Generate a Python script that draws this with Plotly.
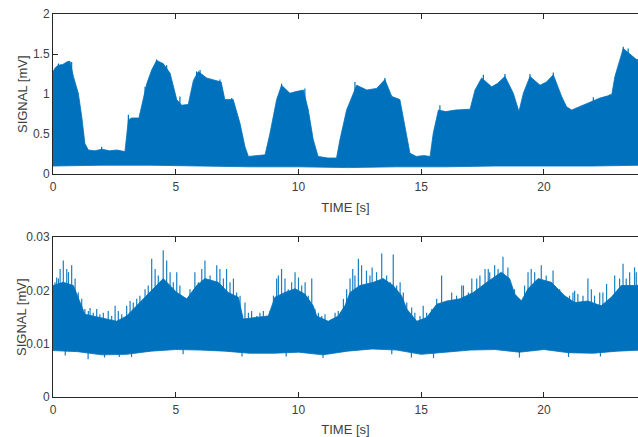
import plotly.graph_objects as go

# ---------------- data ----------------
# Top panel: upper envelope of the dense signal
top_t = [0, 0.1, 0.22, 0.4, 0.56, 0.69, 0.83, 1.03, 1.17, 1.30, 1.44, 1.7, 2.0, 2.3, 2.6, 2.93,
         3.07, 3.2, 3.5, 3.68, 3.82, 4.02, 4.22, 4.35, 4.49, 4.77, 5.04, 5.24, 5.51, 5.72, 5.92,
         6.26, 6.67, 6.85, 7.0, 7.34, 7.62, 7.82, 7.96, 8.3, 8.64, 8.84, 9.11, 9.31, 9.65, 9.9,
         10.2, 10.4, 10.6, 10.8, 11.2, 11.55, 11.69, 11.96, 12.37, 12.78, 13.18, 13.52, 13.8,
         14.13, 14.34, 14.54, 14.8, 15.1, 15.36, 15.49, 15.7, 16.0, 16.4, 16.99, 17.19, 17.46,
         17.87, 18.1, 18.41, 18.75, 18.98, 19.16, 19.43, 19.84, 20.1, 20.38, 20.72, 20.92, 21.13,
         21.74, 22.28, 22.76, 22.89, 23.23, 23.5, 23.77, 24.0]
top_hi = [1.28, 1.33, 1.36, 1.37, 1.40, 1.41, 1.22, 1.01, 0.72, 0.38, 0.30, 0.29, 0.31, 0.29, 0.30, 0.28,
          0.675, 0.70, 0.70, 0.93, 1.13, 1.30, 1.42, 1.40, 1.38, 1.26, 0.93, 0.86, 0.87, 1.17, 1.28,
          1.20, 1.17, 1.15, 0.93, 0.93, 0.63, 0.34, 0.22, 0.23, 0.24, 0.51, 0.93, 1.11, 1.01, 1.03,
          1.05, 0.80, 0.43, 0.22, 0.20, 0.20, 0.43, 0.80, 1.11, 1.05, 1.07, 1.18, 0.97,
          0.93, 0.59, 0.26, 0.22, 0.23, 0.22, 0.51, 0.80, 0.78, 0.80, 0.81, 1.05, 1.20,
          1.09, 1.13, 1.22, 1.01, 0.78, 1.01, 1.22, 1.11, 1.15, 1.24, 0.97, 0.84, 0.80,
          0.88, 0.95, 0.99, 1.22, 1.57, 1.50, 1.43, 1.45]
# Top panel: lower envelope
top_lo_t = [0, 2, 4, 6, 8, 10, 12, 14, 16, 18, 20, 22, 24]
top_lo = [0.10, 0.11, 0.11, 0.10, 0.09, 0.09, 0.08, 0.09, 0.09, 0.10, 0.10, 0.10, 0.11]
# Top panel: isolated spikes on the upper edge (time, peak value)
top_spike_t = [0.22, 0.63, 0.76, 1.98, 3.07, 3.3, 3.75, 4.22, 4.63, 5.17, 5.85, 5.99, 6.80, 7.28,
               9.31, 10.26, 12.30, 13.52, 15.76, 17.53, 18.41, 19.43, 20.38, 22.01, 22.69,
               23.23, 23.43]
top_spike_v = [1.38, 1.41, 1.40, 0.34, 0.74, 0.70, 1.09, 1.43, 1.36, 0.97, 1.28, 1.30, 1.18, 0.95,
               1.13, 1.07, 1.15, 1.20, 0.86, 1.24, 1.25, 1.25, 1.27, 0.96, 1.00,
               1.59, 1.57]
top_spike_base = 0.15

# Bottom panel: upper envelope of the dense body
bot_t = [0, 0.42, 0.83, 1.1, 1.3, 1.91, 2.59, 3.0, 3.54, 3.95, 4.49, 5.04, 5.45, 5.85, 6.19, 6.73,
         7.14, 7.55, 7.75, 8.23, 8.77, 9.04, 9.45, 9.86, 10.26, 10.6, 10.74, 11.21, 11.62, 11.89,
         12.1, 12.5, 13.05, 13.45, 13.86, 14.2, 14.41, 14.82, 15.22, 15.63, 16.04, 16.58, 17.12,
         17.67, 18.26, 18.6, 18.81, 19.08, 19.35, 19.76, 20.3, 20.84, 21.25, 21.79, 22.33, 22.74,
         23.15, 23.69, 24.0]
bot_hi = [0.0209, 0.0215, 0.0209, 0.0177, 0.0155, 0.0149, 0.0142, 0.0152, 0.0177, 0.0196, 0.0222,
          0.0196, 0.0184, 0.0209, 0.0222, 0.0215, 0.0196, 0.0187, 0.0146, 0.0149, 0.0152, 0.0187,
          0.0196, 0.0203, 0.0193, 0.0171, 0.0152, 0.0142, 0.0152, 0.0171, 0.0196, 0.0209, 0.0215,
          0.0222, 0.0209, 0.0190, 0.0165, 0.0142, 0.0149, 0.0174, 0.0180, 0.0184, 0.0196, 0.0215,
          0.0234, 0.0222, 0.0193, 0.0180, 0.0203, 0.0222, 0.0215, 0.0190, 0.0177, 0.0180, 0.0171,
          0.0187, 0.0209, 0.0209, 0.0210]
# Bottom panel: lower envelope
bot_lo_t = [0, 1, 2, 3, 4, 5, 6, 7, 8, 9, 10, 11, 12, 13, 14, 15, 16, 17, 18, 19, 20, 21, 22, 23, 24]
bot_lo = [0.0087, 0.0085, 0.0079, 0.0080, 0.0086, 0.0089, 0.0088, 0.0086, 0.0082, 0.0082, 0.0084,
          0.0079, 0.0086, 0.0090, 0.0088, 0.0080, 0.0084, 0.0088, 0.0089, 0.0084, 0.0089, 0.0083,
          0.0082, 0.0086, 0.0088]
# Bottom panel: spikes above the body (time, peak value)
spike_t = [0.08, 0.15, 0.22, 0.29, 0.42, 0.56, 0.63, 0.76, 0.90, 1.03, 1.17, 1.30, 1.44, 1.51, 1.64,
           1.78, 1.91, 2.05, 2.25, 2.39, 2.53, 2.66, 2.80, 3.00, 3.14, 3.27, 3.41, 3.54, 3.75, 3.88,
           4.02, 4.16, 4.29, 4.49, 4.63, 4.77, 4.90, 5.04, 5.17, 5.38, 5.58, 5.78, 5.92,
           6.06, 6.19, 6.40, 6.53, 6.67, 6.80, 6.94, 7.07, 7.21, 7.35, 7.48, 7.62, 7.82, 7.96,
           8.09, 8.30, 8.43, 8.57, 8.70, 8.84, 8.98, 9.11, 9.18, 9.31, 9.45, 9.58, 9.72, 9.86,
           10.0, 10.13, 10.27, 10.40, 10.54, 10.67, 10.81, 10.95, 11.08, 11.35, 11.49, 11.62,
           11.83, 11.96, 12.10, 12.21, 12.30, 12.44, 12.57, 12.77, 12.91, 13.0, 13.18, 13.39,
           13.59, 13.73, 13.86, 14.00, 14.14, 14.27, 14.41, 14.61, 14.74, 14.95, 15.08, 15.22,
           15.43, 15.63, 15.83, 16.04, 16.24, 16.44, 16.65, 16.72, 16.92, 17.06, 17.26, 17.39,
           17.6, 17.73, 17.79, 17.99, 18.13, 18.33, 18.53, 18.67, 18.80, 19.01, 19.21, 19.35,
           19.48, 19.62, 19.89, 20.09, 20.37, 20.43, 20.64, 20.91, 21.04, 21.18, 21.25, 21.38,
           21.59, 21.79, 21.93, 22.06, 22.27, 22.40, 22.55, 22.67, 22.88, 23.08, 23.22, 23.35,
           23.49, 23.69, 23.76]
spike_v = [0.0215, 0.0224, 0.0222, 0.0240, 0.0256, 0.0240, 0.0234, 0.0247, 0.0222, 0.0196, 0.0184,
           0.0165, 0.0161, 0.0167, 0.0158, 0.0165, 0.0155, 0.0158, 0.0161, 0.0152, 0.0171, 0.0161,
           0.0155, 0.0171, 0.0180, 0.0177, 0.0184, 0.0190, 0.0202, 0.0209,
           0.0259, 0.0240, 0.0228, 0.0275, 0.0256, 0.0234, 0.0215, 0.0234, 0.0209, 0.0184, 0.0202,
           0.0234, 0.0215,
           0.0240, 0.0256, 0.0228, 0.0215, 0.0247, 0.0240, 0.0222, 0.0240, 0.0215, 0.0222, 0.0196,
           0.0190, 0.0177, 0.0158,
           0.0161, 0.0152, 0.0158, 0.0161, 0.0152, 0.0161, 0.0190, 0.0222, 0.0228, 0.0240, 0.0222,
           0.0202, 0.0215, 0.0234,
           0.0224, 0.0209, 0.0215, 0.0190, 0.0222, 0.0165, 0.0158, 0.0152, 0.0155, 0.0146, 0.0158,
           0.0161,
           0.0184, 0.0202, 0.0222, 0.0240, 0.0228, 0.0259, 0.0247, 0.0237, 0.0228, 0.0243, 0.0234,
           0.0269,
           0.0228, 0.0215, 0.0267, 0.0209, 0.0215, 0.0196, 0.0177, 0.0168, 0.0158, 0.0152, 0.0171,
           0.0158,
           0.0165, 0.0184, 0.0228, 0.0177, 0.0196, 0.0190, 0.0209, 0.0209, 0.0196, 0.0222, 0.0222,
           0.0228,
           0.0240, 0.0240, 0.0234, 0.0247, 0.0240, 0.0263, 0.0243, 0.0196, 0.0202, 0.0184, 0.0209,
           0.0234,
           0.0240, 0.0234, 0.0247, 0.0228, 0.0237, 0.0209, 0.0202, 0.0177, 0.0190, 0.0196, 0.0199,
           0.0193,
           0.0190, 0.0222, 0.0202, 0.0190, 0.0196, 0.0196, 0.0212, 0.0184, 0.0228, 0.0222, 0.0250,
           0.0222,
           0.0234, 0.0243, 0.0234]
spike_base = 0.012
# Bottom panel: spikes below the body (time, trough value)
low_spike_t = [0.5, 1.43, 2.1, 2.7, 3.2, 5.3, 7.7, 9.5, 11.0, 13.8, 14.6, 15.5, 19.0, 21.0, 22.3]
low_spike_v = [0.0078, 0.0071, 0.0074, 0.0075, 0.0075, 0.0080, 0.0076, 0.0076, 0.0073, 0.0080,
               0.0074, 0.0073, 0.0074, 0.0075, 0.0076]

top_yticks = [0, 0.5, 1, 1.5, 2]
top_ylabels = ["0", "0.5", "1", "1.5", "2"]
bot_yticks = [0, 0.01, 0.02, 0.03]
bot_ylabels = ["0", "0.01", "0.02", "0.03"]
xticks = [0, 5, 10, 15, 20]
xlabels = ["0", "5", "10", "15", "20"]

# ---------------- figure ----------------
BLUE = "#0072BD"
AX = "#262626"
TXT = "#404040"
FONT = "Liberation Sans, Arial, sans-serif"


def segs(ts, vs, base):
    xs, ys = [], []
    for t, v in zip(ts, vs):
        xs += [t, t, None]
        ys += [base, v, None]
    return xs, ys


fig = go.Figure()

fig.add_trace(go.Scatter(
    x=top_t + top_lo_t[::-1], y=top_hi + top_lo[::-1],
    fill="toself", fillcolor=BLUE, mode="lines",
    line=dict(color=BLUE, width=0.8), xaxis="x", yaxis="y", hoverinfo="skip"))
sx, sy = segs(top_spike_t, top_spike_v, top_spike_base)
fig.add_trace(go.Scatter(x=sx, y=sy, mode="lines", line=dict(color=BLUE, width=1.2),
                         xaxis="x", yaxis="y", hoverinfo="skip"))

fig.add_trace(go.Scatter(
    x=bot_t + bot_lo_t[::-1], y=bot_hi + bot_lo[::-1],
    fill="toself", fillcolor=BLUE, mode="lines",
    line=dict(color=BLUE, width=0.8), xaxis="x2", yaxis="y2", hoverinfo="skip"))
sx, sy = segs(spike_t, spike_v, spike_base)
fig.add_trace(go.Scatter(x=sx, y=sy, mode="lines", line=dict(color=BLUE, width=1.2),
                         opacity=0.9, xaxis="x2", yaxis="y2", hoverinfo="skip"))
sx, sy = segs(low_spike_t, low_spike_v, spike_base)
fig.add_trace(go.Scatter(x=sx, y=sy, mode="lines", line=dict(color=BLUE, width=1.2),
                         opacity=0.9, xaxis="x2", yaxis="y2", hoverinfo="skip"))

xr = [0, 23.83]
common_x = dict(range=xr, tickvals=xticks, ticktext=xlabels, ticks="inside", ticklen=5,
                tickcolor=AX, showline=True, linecolor=AX, linewidth=1, mirror="ticks",
                showgrid=False, zeroline=False, layer="below traces", automargin=False,
                ticklabelstandoff=2,
                tickfont=dict(family=FONT, size=12, color=TXT))
common_y = dict(ticks="inside", ticklen=5, tickcolor=AX, showline=True, linecolor=AX,
                linewidth=1, mirror=False, showgrid=False, zeroline=False, automargin=False,
                layer="below traces", tickfont=dict(family=FONT, size=12, color=TXT))

fig.update_layout(
    template="none",
    width=638, height=437,
    margin=dict(l=53, r=0, t=14, b=40, pad=0),
    paper_bgcolor="white", plot_bgcolor="white",
    showlegend=False,
    xaxis=dict(domain=[0, 1], anchor="y",
               title=dict(text="TIME [s]", standoff=9,
                          font=dict(family=FONT, size=13, color=TXT)), **common_x),
    yaxis=dict(domain=[0.5822, 1], anchor="x", range=[0, 2],
               tickvals=top_yticks, ticktext=top_ylabels, **common_y),
    xaxis2=dict(domain=[0, 1], anchor="y2",
                title=dict(text="TIME [s]", standoff=8,
                           font=dict(family=FONT, size=13, color=TXT)), **common_x),
    yaxis2=dict(domain=[0, 0.4178], anchor="x2", range=[0, 0.03],
                tickvals=bot_yticks, ticktext=bot_ylabels, **common_y),
    annotations=[
        dict(text="SIGNAL [mV]", textangle=-90, xref="paper", yref="paper",
             x=-0.053, y=0.791, xanchor="center", yanchor="middle", showarrow=False,
             font=dict(family=FONT, size=13, color=TXT)),
        dict(text="SIGNAL [mV]", textangle=-90, xref="paper", yref="paper",
             x=-0.053, y=0.209, xanchor="center", yanchor="middle", showarrow=False,
             font=dict(family=FONT, size=13, color=TXT)),
    ],
)

fig.write_html("out.html",
               config={"displayModeBar": False},
               post_script="document.body.style.margin='0';"
                           "document.body.style.overflow='hidden';")
